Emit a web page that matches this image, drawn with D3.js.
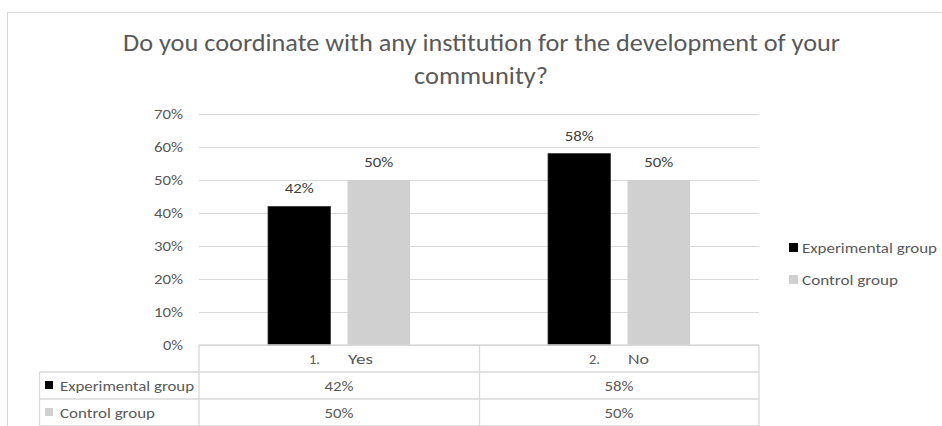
<!DOCTYPE html>
<html>
<head>
<meta charset="utf-8">
<script src="https://cdn.jsdelivr.net/npm/d3@7"></script>
<style>
  html, body { margin: 0; padding: 0; background: #fff; }
  svg { display: block; }
  text { font-family: Calibri, Carlito, Lato, "Open Sans", sans-serif; }
</style>
</head>
<body>
<svg id="chart" width="942" height="426"></svg>
<script>
const titleLines = ["Do you coordinate with any institution for the development of your", "community?"];
const categoryNumbers = ["1.", "2."];
const categories = ["Yes", "No"];
const series = ["Experimental group", "Control group"];
const experimental = [0.42, 0.58];
const control = [0.50, 0.50];
const yTicks = [0, 0.1, 0.2, 0.3, 0.4, 0.5, 0.6, 0.7];
const colors = ["#000000", "#d0d0d0"];

const svg = d3.select("#chart");
const textCol = "#595959";
const lineCol = "#d9d9d9";
const fs = 15;
const pctFmt = d3.format(".0%");
const pctWidth = s => s.length >= 3 ? 29 : 20;

// outer frame
svg.append("rect").attr("x", 7.5).attr("y", 12.5).attr("width", 960).attr("height", 440)
  .attr("fill", "none").attr("stroke", lineCol).attr("stroke-width", 1);

// title
svg.append("text").attr("x", 481.5).attr("y", 51).attr("text-anchor", "middle")
  .attr("font-size", 25).attr("fill", textCol)
  .attr("textLength", 717).attr("lengthAdjust", "spacingAndGlyphs")
  .text(titleLines[0]);
svg.append("text").attr("x", 481).attr("y", 84).attr("text-anchor", "middle")
  .attr("font-size", 25).attr("fill", textCol)
  .attr("textLength", 134).attr("lengthAdjust", "spacingAndGlyphs")
  .text(titleLines[1]);

const x0 = d3.scaleBand().domain(categories).range([199, 759]).padding(0);
const x1 = d3.scaleBand().domain(series).range([0, x0.bandwidth()])
  .paddingInner(0.214).paddingOuter(0.868);
const y = d3.scaleLinear().domain([0, 0.7]).range([345, 114]);

// gridlines
const grid = svg.append("g").attr("transform", "translate(199,0)")
  .call(d3.axisLeft(y).tickValues(yTicks).tickSize(-560).tickFormat(""));
grid.select(".domain").remove();
grid.selectAll("line").attr("stroke", lineCol).attr("stroke-width", 1);

// y tick labels
const yAxis = svg.append("g").attr("transform", "translate(199,0)")
  .call(d3.axisLeft(y).tickValues(yTicks).tickSize(0).tickPadding(16).tickFormat(pctFmt));
yAxis.select(".domain").remove();
yAxis.selectAll("text").attr("font-size", fs).attr("fill", textCol)
  .attr("textLength", d => pctWidth(pctFmt(d))).attr("lengthAdjust", "spacingAndGlyphs")
  .style("font-family", "Calibri, Carlito, Lato, 'Open Sans', sans-serif");

const seriesValues = [experimental, control];
const barData = [];
categories.forEach((c, i) => series.forEach((s, j) => barData.push({c, s, j, v: seriesValues[j][i]})));

// bars
svg.append("g").selectAll("rect").data(barData).join("rect")
  .attr("x", d => x0(d.c) + x1(d.s))
  .attr("y", d => y(d.v))
  .attr("width", x1.bandwidth())
  .attr("height", d => y(0) - y(d.v))
  .attr("fill", d => colors[d.j])
  .attr("stroke", d => d.j === 0 ? "#3a3a3a" : "none")
  .attr("stroke-width", 0.8);

// bar labels
svg.append("g").selectAll("text").data(barData).join("text")
  .attr("x", d => x0(d.c) + x1(d.s) + x1.bandwidth() / 2)
  .attr("y", d => y(d.v) - 13)
  .attr("text-anchor", "middle")
  .attr("font-size", fs).attr("fill", "#404040")
  .attr("textLength", 29).attr("lengthAdjust", "spacingAndGlyphs")
  .text(d => pctFmt(d.v));

// right legend
const legend = svg.append("g");
series.forEach((s, j) => {
  const cy = 248 + j * 32;
  legend.append("rect").attr("x", 789).attr("y", cy - 5).attr("width", 9).attr("height", 9)
    .attr("fill", colors[j]);
  legend.append("text").attr("x", 802).attr("y", cy + 5)
    .attr("font-size", fs).attr("fill", textCol)
    .attr("textLength", j === 0 ? 135 : 96).attr("lengthAdjust", "spacingAndGlyphs")
    .text(s);
});

// data table
const tbl = svg.append("g");
const rowY = [345, 372, 399, 426];
const lineAttrs = sel => sel.attr("stroke", lineCol).attr("stroke-width", 1.3);
tbl.append("line").attr("x1", 199).attr("x2", 759).attr("y1", rowY[0]).attr("y2", rowY[0]).call(lineAttrs);
[1, 2, 3].forEach(k => tbl.append("line").attr("x1", 39.5).attr("x2", 759).attr("y1", rowY[k]).attr("y2", rowY[k]).call(lineAttrs));
tbl.append("line").attr("x1", 39.5).attr("x2", 39.5).attr("y1", rowY[1]).attr("y2", rowY[3]).call(lineAttrs);
[199, 479.5, 759].forEach(xv => tbl.append("line").attr("x1", xv).attr("x2", xv).attr("y1", rowY[0]).attr("y2", rowY[3]).call(lineAttrs));

// header cells
const labelWidths = {"Yes": 25, "No": 21};
categories.forEach((c, i) => {
  const cx = x0(c) + x0.bandwidth() / 2;
  tbl.append("text").attr("x", cx - 30).attr("y", 363.5).attr("font-size", fs).attr("fill", textCol)
    .attr("textLength", 11).attr("lengthAdjust", "spacingAndGlyphs").text(categoryNumbers[i]);
  tbl.append("text").attr("x", cx + 9).attr("y", 363.5).attr("font-size", fs).attr("fill", textCol)
    .attr("textLength", labelWidths[c]).attr("lengthAdjust", "spacingAndGlyphs").text(c);
});

// series rows
series.forEach((s, j) => {
  const cy = (rowY[j + 1] + rowY[j + 2]) / 2;
  tbl.append("rect").attr("x", 45).attr("y", cy - 4.5).attr("width", 8).attr("height", 8).attr("fill", colors[j]);
  tbl.append("text").attr("x", 60).attr("y", cy + 5).attr("font-size", fs).attr("fill", textCol)
    .attr("textLength", j === 0 ? 134 : 95).attr("lengthAdjust", "spacingAndGlyphs").text(s);
  categories.forEach((c, i) => {
    tbl.append("text").attr("x", x0(c) + x0.bandwidth() / 2).attr("y", cy + 5)
      .attr("text-anchor", "middle").attr("font-size", fs).attr("fill", textCol)
      .attr("textLength", 29).attr("lengthAdjust", "spacingAndGlyphs")
      .text(pctFmt(seriesValues[j][i]));
  });
});
</script>
</body>
</html>
